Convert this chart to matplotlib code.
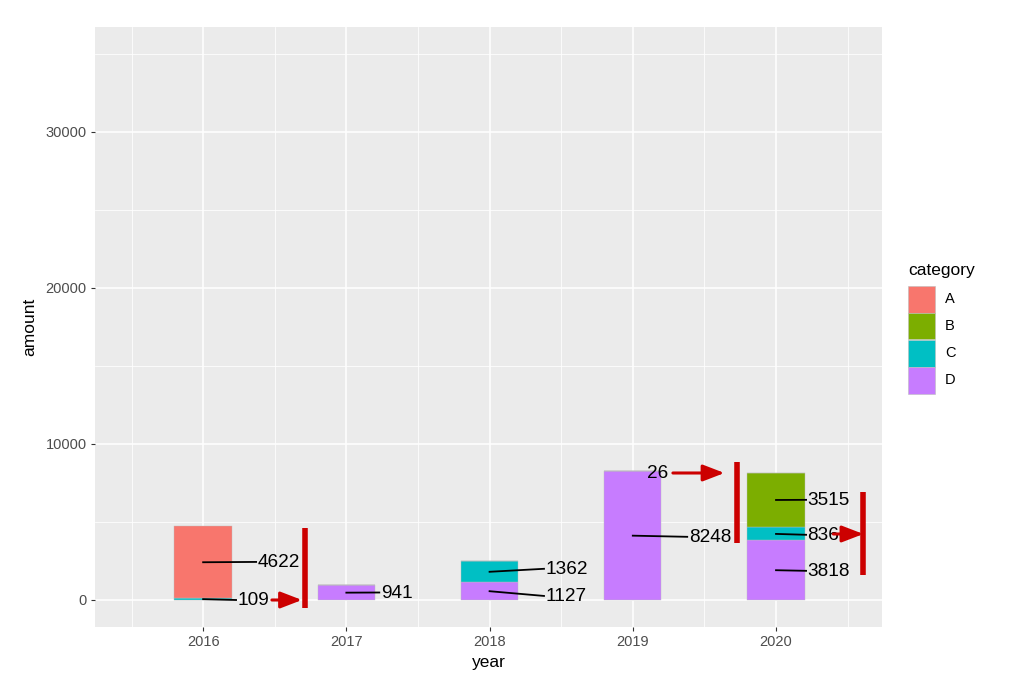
import numpy as np
import matplotlib
matplotlib.use("Agg")
from matplotlib import pyplot as plt
from matplotlib.patches import Rectangle

plt.rcParams["font.family"] = ["Liberation Sans", "DejaVu Sans"]

# stacked amounts per year (bottom -> top: D, C, B, A)
years = [2016, 2017, 2018, 2019, 2020]
categories = ["A", "B", "C", "D"]
amount_A = [4622, 0, 0, 0, 0]
amount_B = [0, 0, 0, 26, 3515]
amount_C = [109, 0, 1362, 0, 836]
amount_D = [0, 941, 1127, 8248, 3818]

colors = {"A": "#F8766D", "B": "#7CAE00", "C": "#00BFC4", "D": "#C77CFF"}

# repelled label positions (left edge of text unless noted)
label_year = [2016, 2016, 2017, 2018, 2018, 2019, 2019, 2020, 2020, 2020]
label_cat = ["C", "A", "D", "D", "C", "D", "B", "D", "C", "B"]
label_x = [2016.24, 2016.38, 2017.24, 2018.39, 2018.39, 2019.39, 2019.25, 2020.22, 2020.22, 2020.22]
label_y = [-60, 2380, 420, 200, 1940, 3990, 8090, 1810, 4120, 6360]

# red markup: arrows (x0, x1, y) and vertical bars (x, y0, y1)
arrows = [(2016.48, 2016.69, 0), (2019.28, 2019.64, 8141), (2020.40, 2020.61, 4231)]
vbars = [(2016.71, -513, 4615), (2019.73, 3654, 8846), (2020.61, 1603, 6923)]

W, H = 1029, 692
fig = plt.figure(figsize=(W / 100, H / 100), dpi=100)
ax = fig.add_axes([95 / W, 65 / H, 787 / W, 600 / H])
ax.set_facecolor("#EBEBEB")

series = {"A": amount_A, "B": amount_B, "C": amount_C, "D": amount_D}
bottom = np.zeros(len(years))
mids = {}
for cat in ["D", "C", "B", "A"]:
    vals = np.array(series[cat], dtype=float)
    ax.bar(years, vals, bottom=bottom, width=0.4, color=colors[cat],
           edgecolor="#BDBDBD", linewidth=0.3, zorder=2)
    for i, y in enumerate(years):
        mids[(y, cat)] = bottom[i] + vals[i] / 2
    bottom = bottom + vals

for yr, cat, lx, ly in zip(label_year, label_cat, label_x, label_y):
    val = series[cat][years.index(yr)]
    if cat == "B" and yr == 2019:
        ax.text(lx, ly, str(val), ha="right", va="center", fontsize=13.7, zorder=5)
        continue
    ax.plot([yr, lx - 0.01], [mids[(yr, cat)], ly + 60], color="black", lw=1.3, zorder=4)
    ax.text(lx, ly, str(val), ha="left", va="center", fontsize=13.7, zorder=5)

for x0, x1, y in arrows:
    ax.annotate("", xy=(x1, y), xytext=(x0, y),
                arrowprops=dict(arrowstyle="-|>,head_length=1.3,head_width=0.5",
                                color="#CC0000", lw=2.2, shrinkA=0, shrinkB=0), zorder=6)
for x, y0, y1 in vbars:
    ax.plot([x, x], [y0, y1], color="#CC0000", lw=4, solid_capstyle="butt", zorder=6)

ax.set_xlim(2015.245, 2020.74)
ax.set_ylim(-1731, 36730)
ax.set_xticks(years)
ax.set_xticks([2015.5, 2016.5, 2017.5, 2018.5, 2019.5, 2020.5], minor=True)
ax.set_yticks([0, 10000, 20000, 30000])
ax.set_yticks([5000, 15000, 25000, 35000], minor=True)
ax.grid(which="major", color="white", lw=1.1, zorder=0)
ax.grid(which="minor", color="white", lw=0.55, zorder=0)
ax.set_axisbelow(True)
for s in ax.spines.values():
    s.set_visible(False)
ax.tick_params(which="major", length=3, color="#333333", labelsize=10.5, labelcolor="#4D4D4D", pad=3)
ax.tick_params(which="minor", length=0)
ax.set_xlabel("year", fontsize=12.5, labelpad=4)
ax.set_ylabel("amount", fontsize=12.5, labelpad=6)

# legend drawn by hand so the keys touch like ggplot's
fig.text(908 / W, 1 - 270 / H, "category", fontsize=12.5, ha="left", va="center")
for i, cat in enumerate(categories):
    top = 286 + i * 27
    fig.add_artist(Rectangle((908 / W, 1 - (top + 26.5) / H), 27 / W, 26.5 / H,
                             transform=fig.transFigure, facecolor=colors[cat],
                             edgecolor="#BDBDBD", lw=0.4))
    fig.text(945 / W, 1 - (top + 13) / H, cat, fontsize=10.5, ha="left", va="center")

fig.savefig("out.png", dpi=100)
